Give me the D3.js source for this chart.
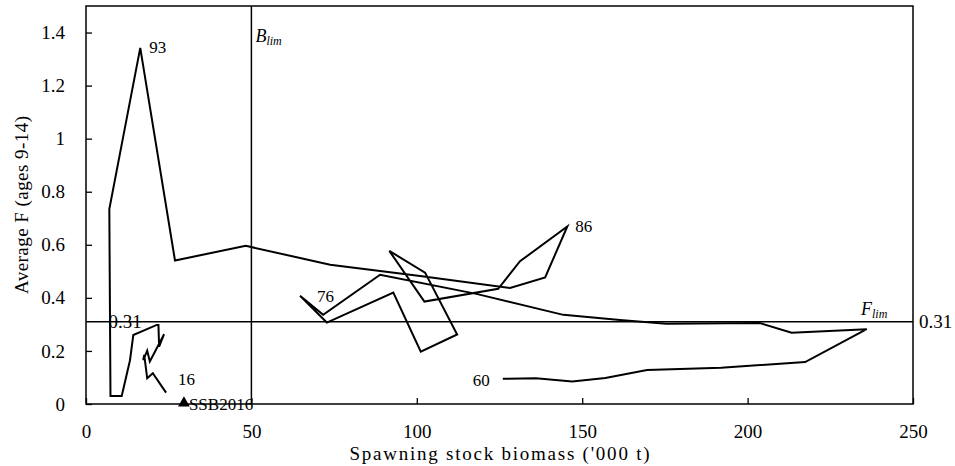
<!DOCTYPE html>
<html>
<head>
<meta charset="utf-8">
<script src="https://cdn.jsdelivr.net/npm/d3@7"></script>
<style>
    body { margin: 0; background: #fff; }
    svg { font-family: 'Liberation Serif', serif; }
    .axis-text { font-size: 19px; fill: #000; }
</style>
</head>
<body>
<div class="graph-bg"></div>
<script>
// SSB ('000 t) and average F, one vertex per visible year
var ssb = [126, 136, 147, 157, 169.6, 192, 217.4, 236, 213.3, 203.7, 175.4, 161.4, 144.3, 118, 88.9, 71.7,
    64.7, 72.8, 92.9, 101.2, 112.2, 102.5, 91.7, 102.3, 124.6, 131.2, 145.5, 138.8, 128.2, 101, 73.8, 48.3,
    26.9, 16.4, 7.05, 7.4, 10.8, 13.3, 14.3, 21.4, 21.9, 22.1, 23.6, 19.3, 18.5, 17.3, 17.6, 18.5, 20.2, 24.2];
var fbar = [0.095, 0.097, 0.085, 0.098, 0.128, 0.137, 0.158, 0.282, 0.269, 0.305, 0.302, 0.317, 0.336, 0.415, 0.487, 0.336,
    0.408, 0.307, 0.42, 0.197, 0.262, 0.495, 0.577, 0.386, 0.434, 0.538, 0.669, 0.477, 0.437, 0.482, 0.525, 0.596,
    0.541, 1.342, 0.735, 0.03, 0.03, 0.165, 0.26, 0.298, 0.298, 0.216, 0.263, 0.16, 0.201, 0.165, 0.185, 0.097, 0.116, 0.043];

var yearText = ['60', '76', '86', '93', '16'];
var yearIndex = [0, 16, 26, 33, 49];

var xTicks = [0, 50, 100, 150, 200, 250];
var yTicks = [0, 0.2, 0.4, 0.6, 0.8, 1, 1.2, 1.4];

var bLim = 50;
var fLim = 0.31;
var ssb2016 = 29.6;

var w = 955;
var h = 466;
var pLeft = 86, pRight = 913, pTop = 6, pBottom = 404;

drawChart();

function drawChart() {
    var svg = d3.select('.graph-bg').append('svg').attr('width', w).attr('height', h);

    var x = d3.scaleLinear().domain([0, 250]).range([pLeft, pRight]);
    var y = d3.scaleLinear().domain([0, 1.5]).range([pBottom, pTop]);

    var xAxis = svg.append('g').attr('transform', 'translate(0,' + pBottom + ')')
        .call(d3.axisBottom(x).tickValues(xTicks).tickSizeInner(-6).tickSizeOuter(0).tickPadding(21));
    var yAxis = svg.append('g').attr('transform', 'translate(' + pLeft + ',0)')
        .call(d3.axisLeft(y).tickValues(yTicks).tickSizeInner(-6).tickSizeOuter(0).tickPadding(21)
            .tickFormat(function (d) { return String(+d.toFixed(1)); }));
    [xAxis, yAxis].forEach(function (a) {
        a.attr('font-family', null).attr('font-size', null);
        a.select('.domain').remove();
        a.selectAll('line').attr('stroke', '#000').attr('stroke-width', 1.3);
        a.selectAll('text').attr('class', 'axis-text');
    });

    // plot frame
    svg.append('rect').attr('x', pLeft).attr('y', pTop).attr('width', pRight - pLeft).attr('height', pBottom - pTop)
        .attr('fill', 'none').attr('stroke', '#000').attr('stroke-width', 1.5);

    // reference lines
    drawLine(svg, x(bLim), y(1.5), x(bLim), y(0), '#000', 1.5);
    drawLine(svg, x(0), y(fLim), x(250), y(fLim), '#000', 1.5);

    var line = d3.line().x(function (d) { return x(d[0]); }).y(function (d) { return y(d[1]); });
    svg.append('path').datum(d3.zip(ssb, fbar)).attr('d', line)
        .attr('fill', 'none').attr('stroke', '#000').attr('stroke-width', 2).attr('stroke-linejoin', 'miter');

    // year labels
    var off = {'60': [-30, 7], '76': [17, 6], '86': [8, 6], '93': [9, 5], '16': [12, -8]};
    yearText.forEach(function (t, i) {
        var k = yearIndex[i];
        svg.append('text').attr('x', x(ssb[k]) + off[t][0]).attr('y', y(fbar[k]) + off[t][1])
            .attr('font-size', 17).text(t);
    });

    // limit labels
    var bl = svg.append('text').attr('x', x(bLim) + 4).attr('y', 42).attr('font-size', 18).attr('font-style', 'italic');
    bl.append('tspan').text('B');
    bl.append('tspan').attr('font-size', 12).attr('dy', 3).text('lim');
    var fl = svg.append('text').attr('x', 861).attr('y', y(fLim) - 7).attr('font-size', 18).attr('font-style', 'italic');
    fl.append('tspan').text('F');
    fl.append('tspan').attr('font-size', 12).attr('dy', 3).text('lim');

    svg.append('text').attr('class', 'axis-text').attr('x', pRight + 6).attr('y', y(fLim)).attr('dy', '0.35em').text('0.31');
    svg.append('text').attr('class', 'axis-text').attr('x', 125).attr('y', y(fLim)).attr('dy', '0.35em')
        .attr('text-anchor', 'middle').text('0.31');

    // SSB2016 marker
    svg.append('path').attr('d', d3.symbol().type(d3.symbolTriangle).size(60))
        .attr('transform', 'translate(' + x(ssb2016) + ',' + (y(0) - 1) + ')').attr('fill', '#000');
    svg.append('text').attr('x', x(ssb2016) + 5).attr('y', y(0) + 6).attr('font-size', 17).text('SSB2016');

    // axis titles
    svg.append('text').attr('class', 'axis-text').attr('x', (pLeft + pRight) / 2).attr('y', 460)
        .attr('font-size', 20).attr('text-anchor', 'middle').attr('textLength', 300).attr('lengthAdjust', 'spacing')
        .text("Spawning stock biomass ('000 t)");
    svg.append('text').attr('class', 'axis-text').attr('transform', 'translate(28,' + (pTop + pBottom) / 2 + ') rotate(-90)')
        .attr('text-anchor', 'middle').attr('textLength', 178).attr('lengthAdjust', 'spacing')
        .text('Average F (ages 9-14)');
}

function drawLine(section, x1, y1, x2, y2, stroke, strokeWidth) {
    return section.append('line').attr('x1', x1).attr('y1', y1).attr('x2', x2).attr('y2', y2)
        .attr('stroke', stroke).attr('stroke-width', strokeWidth);
}
</script>
</body>
</html>
